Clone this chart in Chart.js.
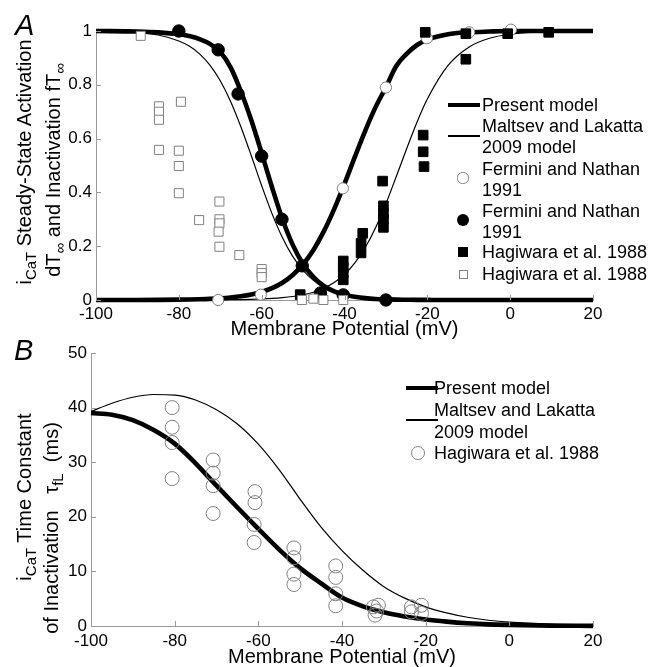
<!DOCTYPE html>
<html>
<head>
<meta charset="utf-8">
<script src="https://cdn.jsdelivr.net/npm/chart.js@4.4.1/dist/chart.umd.min.js"></script>
<style>
html,body{margin:0;padding:0;background:#fff;}
#wrap{position:relative;width:649px;height:667px;overflow:hidden;font-family:"Liberation Sans",Arial,Helvetica,sans-serif;color:#000;}
canvas{position:absolute;left:0;}
#cA{top:0;}
#cB{top:330px;}
.t{position:absolute;white-space:nowrap;line-height:1;transform:translateY(-50%);}
.ylab{position:absolute;white-space:nowrap;font-size:20px;line-height:1;transform:translate(-50%,-50%) rotate(-90deg);}
.ylab sub{font-size:0.75em;line-height:0;vertical-align:-0.35em;}
.panel{position:absolute;font-size:29px;font-style:italic;line-height:1;}
.sym{position:absolute;box-sizing:border-box;}
</style>
</head>
<body>
<div id="wrap">
  <canvas id="cA" width="649" height="345"></canvas>
  <canvas id="cB" width="649" height="337"></canvas>
</div>
<script>
// ================= Panel A data =================
const fitV = [-100,-90,-85,-80,-77.5,-75,-72.5,-70,-67.5,-65,-62.5,-60,-57.5,-55,-52.5,-50,-47.5,-45,-42.5,-40,-37.5,-35,-32.5,-30,-27.5,-25,-22.5,-20,-15,-10,-5,0,10,20];
// Present model, steady-state inactivation fT_inf (thick)
const presentF = [1.0,0.998,0.995,0.988,0.981,0.97,0.952,0.922,0.865,0.775,0.668,0.546,0.419,0.301,0.205,0.134,0.085,0.052,0.032,0.019,0.012,0.007,0.004,0.0025,0.0015,0.001,0.0005,0.0003,0,0,0,0,0,0];
// Present model, steady-state activation dT_inf (thick)
const presentD = [0,0.00025,0.00056,0.0013,0.0019,0.0028,0.0041,0.0062,0.0092,0.0137,0.0203,0.03,0.044,0.064,0.093,0.133,0.186,0.255,0.338,0.432,0.532,0.629,0.717,0.791,0.87,0.915,0.948,0.968,0.988,0.995,0.998,1.0,1.0,1.0];
// Maltsev and Lakatta 2009, inactivation (thin)
const maltsevF = [0.999,0.994,0.985,0.963,0.944,0.915,0.873,0.815,0.738,0.643,0.536,0.425,0.321,0.232,0.162,0.11,0.073,0.048,0.031,0.02,0.013,0.0084,0.0054,0.0035,0.0023,0.0014,0.0009,0.0006,0.0002,0,0,0,0,0];
// Maltsev and Lakatta 2009, activation (thin)
const maltsevD = [0,0,0.00006,0.00013,0.0002,0.0003,0.00047,0.0007,0.0011,0.0016,0.0025,0.0038,0.0057,0.0086,0.013,0.0195,0.029,0.044,0.065,0.095,0.138,0.195,0.269,0.358,0.459,0.562,0.661,0.747,0.872,0.94,0.973,0.988,0.998,1.0];

// Fermini and Nathan 1991 (open circles, activation)
const ferOpenV = [-70.5,-60.2,-40.4,-30,-20.1,-9.9,0.2];
const ferOpenY = [0,0.02,0.415,0.79,0.973,0.995,1.005];
// Fermini and Nathan 1991 (filled circles, inactivation)
const ferFillV = [-80,-70.5,-65.7,-60,-55.1,-50.2,-45.8,-40.3,-30];
const ferFillY = [1.0,0.93,0.766,0.535,0.30,0.127,0.026,0.019,0];
// Hagiwara et al. 1988 (filled squares, activation)
const hagFillV = [-50.7,-40.3,-40.3,-40.3,-40.3,-35.6,-36,-36,-30.6,-30.6,-30.6,-30.6,-30.8,-21,-21,-20.8,-20.5,-10.7,-10.7,-0.6,9.3];
const hagFillY = [0.02,0.145,0.12,0.10,0.075,0.248,0.211,0.175,0.35,0.32,0.30,0.27,0.442,0.613,0.551,0.496,0.995,0.99,0.895,0.99,0.995];
// Hagiwara et al. 1988 (open squares, inactivation)
const hagOpenV = [-89.2,-84.8,-84.8,-84.8,-84.8,-79.5,-80,-80,-80,-75.1,-70.2,-70.2,-70.2,-70.4,-70.2,-65.4,-60,-60,-60,-50.3,-47.5,-45.1,-40.3];
const hagOpenY = [0.982,0.72,0.70,0.67,0.558,0.737,0.555,0.498,0.397,0.297,0.366,0.30,0.285,0.254,0.198,0.167,0.115,0.10,0.085,0.0,0.005,0.0,0.0];

const xTicksA = [-100,-80,-60,-40,-20,0,20];
const yTicksA = [0,0.2,0.4,0.6,0.8,1];

// ================= Panel B data =================
const tauV = [-100,-95,-90,-85,-80,-75,-70,-65,-60,-55,-50,-45,-40,-35,-30,-25,-20,-15,-10,-5,0,10,20];
const presentTau = [39.0,38.7,37.7,35.9,33.4,29.8,25.7,21.7,17.8,14.0,10.6,7.8,5.2,3.6,2.5,1.75,1.2,0.8,0.5,0.3,0.2,0.07,0.02];
const maltsevTau = [39.3,40.8,41.9,42.4,42.3,41.4,39.6,37.0,33.3,28.6,23.2,18.1,13.8,10.2,7.2,5.1,3.5,2.4,1.6,1.05,0.7,0.32,0.15];
const hagTauV = [-80.6,-80.6,-80.6,-80.6,-70.8,-70.8,-70.8,-70.8,-60.8,-60.8,-61,-61,-51.5,-51.5,-51.5,-51.5,-41.5,-41.5,-41.5,-41.5,-32.5,-31.3,-31.7,-32.1,-23.4,-21,-23.4,-21];
const hagTauY = [40.0,36.4,33.6,27.0,30.4,28.0,25.7,20.6,24.6,22.6,18.6,15.3,14.3,12.5,9.5,7.6,11.0,8.9,5.9,3.7,3.5,3.8,2.75,2.0,3.5,3.8,2.6,2.3];

const xTicksB = [-100,-80,-60,-40,-20,0,20];
const yTicksB = [0,10,20,30,40,50];

// ================= labels =================
const LBL_PRESENT = 'Present model';
const LBL_MALTSEV = 'Maltsev and Lakatta 2009 model';
const LBL_FERMINI = 'Fermini and Nathan 1991';
const LBL_HAGIWARA = 'Hagiwara et al. 1988';
const X_TITLE = 'Membrane Potential (mV)';

// ================= helpers =================
const FONT = '"Liberation Sans", Arial, Helvetica, sans-serif';
const GRAY = '#808080';
const AXIS = '#9a9a9a';
const pts = (xs, ys) => xs.map((x, i) => ({x: x, y: ys[i]}));

const innerTicks = {
  id: 'innerTicks',
  afterDraw(chart) {
    const {ctx, chartArea: a, scales: {x, y}} = chart;
    ctx.save();
    ctx.strokeStyle = AXIS;
    ctx.lineWidth = 1;
    x.ticks.forEach(t => {
      const p = Math.round(x.getPixelForValue(t.value)) + 0.5;
      ctx.beginPath(); ctx.moveTo(p, a.bottom); ctx.lineTo(p, a.bottom - 5); ctx.stroke();
    });
    y.ticks.forEach(t => {
      const p = Math.round(y.getPixelForValue(t.value)) + 0.5;
      ctx.beginPath(); ctx.moveTo(a.left, p); ctx.lineTo(a.left + 5, p); ctx.stroke();
    });
    ctx.restore();
  }
};

function lineDS(label, xs, ys, width) {
  return {label: label, data: pts(xs, ys), showLine: true, borderColor: '#000', borderWidth: width,
          pointRadius: 0, cubicInterpolationMode: 'monotone', clip: false, fill: false};
}
function pointDS(label, xs, ys, style, r, bg, border) {
  return {label: label, data: pts(xs, ys), showLine: false, pointStyle: style, pointRadius: r,
          pointBackgroundColor: bg, pointBorderColor: border, pointBorderWidth: 1, clip: false};
}

function makeOptions(cfg) {
  return {
    responsive: false, animation: false, devicePixelRatio: 1,
    layout: {padding: {left: 0, right: cfg.padRight, top: cfg.padTop, bottom: 0}},
    plugins: {legend: {display: false}, tooltip: {enabled: false}},
    scales: {
      x: {
        type: 'linear', min: -100, max: 20,
        afterBuildTicks: s => { s.ticks = cfg.xTicks.map(v => ({value: v})); },
        afterFit: s => { s.height = cfg.xHeight; },
        ticks: {color: '#000', padding: cfg.xPad, maxRotation: 0, autoSkip: false,
                callback: v => String(v),
                font: {family: FONT, size: 17, lineHeight: 1.2}},
        grid: {display: true, drawOnChartArea: false, drawTicks: false},
        border: {display: true, color: AXIS, width: 1},
        title: {display: true, text: X_TITLE, color: '#000',
                font: {family: FONT, size: 20, lineHeight: 1}, padding: {top: 0, bottom: cfg.titlePad}}
      },
      y: {
        type: 'linear', min: cfg.yMin, max: cfg.yMax,
        afterBuildTicks: s => { s.ticks = cfg.yTicks.map(v => ({value: v})); },
        afterFit: s => { s.width = cfg.yWidth; },
        ticks: {color: '#000', padding: 4, autoSkip: false,
                callback: v => String(v),
                font: {family: FONT, size: 17, lineHeight: 1.2}},
        grid: {display: true, drawOnChartArea: false, drawTicks: false},
        border: {display: true, color: AXIS, width: 1}
      }
    }
  };
}

// ================= Chart A =================
new Chart(document.getElementById('cA'), {
  type: 'scatter',
  data: {datasets: [
    pointDS(LBL_HAGIWARA, hagOpenV, hagOpenY, 'rect', 6.4, '#fff', GRAY),
    pointDS(LBL_HAGIWARA, hagFillV, hagFillY, 'rect', 6.8, '#000', '#000'),
    pointDS(LBL_FERMINI, ferOpenV, ferOpenY, 'circle', 5.6, '#fff', GRAY),
    pointDS(LBL_FERMINI, ferFillV, ferFillY, 'circle', 6.2, '#000', '#000'),
    lineDS(LBL_PRESENT, fitV, presentF, 4.6),
    lineDS(LBL_PRESENT, fitV, presentD, 4.6),
    lineDS(LBL_MALTSEV, fitV, maltsevF, 1.2),
    lineDS(LBL_MALTSEV, fitV, maltsevD, 1.2)
  ]},
  options: makeOptions({padRight: 56, padTop: 31, xHeight: 45, yWidth: 96, xPad: 4, titlePad: 6,
                        yMin: 0, yMax: 1, xTicks: xTicksA, yTicks: yTicksA}),
  plugins: [innerTicks]
});

// ================= Chart B =================
new Chart(document.getElementById('cB'), {
  type: 'scatter',
  data: {datasets: [
    pointDS(LBL_HAGIWARA, hagTauV, hagTauY, 'circle', 7, 'rgba(0,0,0,0)', GRAY),
    lineDS(LBL_PRESENT, tauV, presentTau, 4.6),
    lineDS(LBL_MALTSEV, tauV, maltsevTau, 1.2)
  ]},
  options: makeOptions({padRight: 56, padTop: 23, xHeight: 41, yWidth: 91, xPad: 5, titlePad: 0,
                        yMin: 0, yMax: 50, xTicks: xTicksB, yTicks: yTicksB}),
  plugins: [innerTicks]
});

// ================= HTML text: titles, panel letters, legends =================
const wrap = document.getElementById('wrap');
function el(cls, html, css) {
  const d = document.createElement('div');
  d.className = cls; d.innerHTML = html;
  Object.assign(d.style, css);
  wrap.appendChild(d);
  return d;
}
function txt(s, x, y) { return el('t', s, {left: x + 'px', top: y + 'px', fontSize: '18px'}); }
function sym(kind, x, y) {
  const s = {};
  if (kind === 'thick') Object.assign(s, {left: x + 'px', top: (y - 2.3) + 'px', width: '32px', height: '4.6px', background: '#000'});
  if (kind === 'thin') Object.assign(s, {left: x + 'px', top: (y - 0.6) + 'px', width: '32px', height: '1.2px', background: '#000'});
  if (kind === 'ocircle') Object.assign(s, {left: (x - 5.6) + 'px', top: (y - 5.6) + 'px', width: '11.2px', height: '11.2px', border: '1px solid ' + GRAY, borderRadius: '50%', background: '#fff'});
  if (kind === 'ocircleB') Object.assign(s, {left: (x - 7) + 'px', top: (y - 7) + 'px', width: '14px', height: '14px', border: '1px solid ' + GRAY, borderRadius: '50%'});
  if (kind === 'fcircle') Object.assign(s, {left: (x - 6.2) + 'px', top: (y - 6.2) + 'px', width: '12.4px', height: '12.4px', borderRadius: '50%', background: '#000'});
  if (kind === 'fsquare') Object.assign(s, {left: (x - 4.8) + 'px', top: (y - 4.8) + 'px', width: '9.6px', height: '9.6px', background: '#000'});
  if (kind === 'osquare') Object.assign(s, {left: (x - 4.5) + 'px', top: (y - 4.5) + 'px', width: '9px', height: '9px', border: '1px solid ' + GRAY, background: '#fff'});
  el('sym', '', s);
}

// panel letters
el('panel', 'A', {left: '15px', top: '11px'});
el('panel', 'B', {left: '14px', top: '336px'});

// y-axis titles (rotated)
el('ylab', 'i<sub>CaT</sub> Steady-State Activation', {left: '24px', top: '162px'});
el('ylab', 'dT<sub>\u221E</sub> and Inactivation fT<sub>\u221E</sub>', {left: '53px', top: '170px'});
el('ylab', 'i<sub>CaT</sub> Time Constant', {left: '24px', top: '497px'});
el('ylab', 'of Inactivation&nbsp;&nbsp;&nbsp;\u03C4<sub>fL</sub>&nbsp;&nbsp;(ms)', {left: '51px', top: '528px'});

// legend A
const split = s => s === LBL_MALTSEV ? ['Maltsev and Lakatta', '2009 model'] : s === LBL_FERMINI ? ['Fermini and Nathan', '1991'] : [s];
sym('thick', 448, 105); txt(split(LBL_PRESENT)[0], 482, 105);
sym('thin', 448, 136); txt(split(LBL_MALTSEV)[0], 482, 126); txt(split(LBL_MALTSEV)[1], 482, 147);
sym('ocircle', 463, 178); txt(split(LBL_FERMINI)[0], 482, 169); txt(split(LBL_FERMINI)[1], 482, 190);
sym('fcircle', 463, 220); txt(split(LBL_FERMINI)[0], 482, 211); txt(split(LBL_FERMINI)[1], 482, 232);
sym('fsquare', 463, 252); txt(LBL_HAGIWARA, 482, 252);
sym('osquare', 463, 274); txt(LBL_HAGIWARA, 482, 274);

// legend B
sym('thick', 406, 388); txt(LBL_PRESENT, 434, 388);
sym('thin', 406, 420); txt('Maltsev and Lakatta', 434, 410); txt('2009 model', 434, 432);
sym('ocircleB', 418, 453); txt(LBL_HAGIWARA, 434, 453);
</script>
</body>
</html>
